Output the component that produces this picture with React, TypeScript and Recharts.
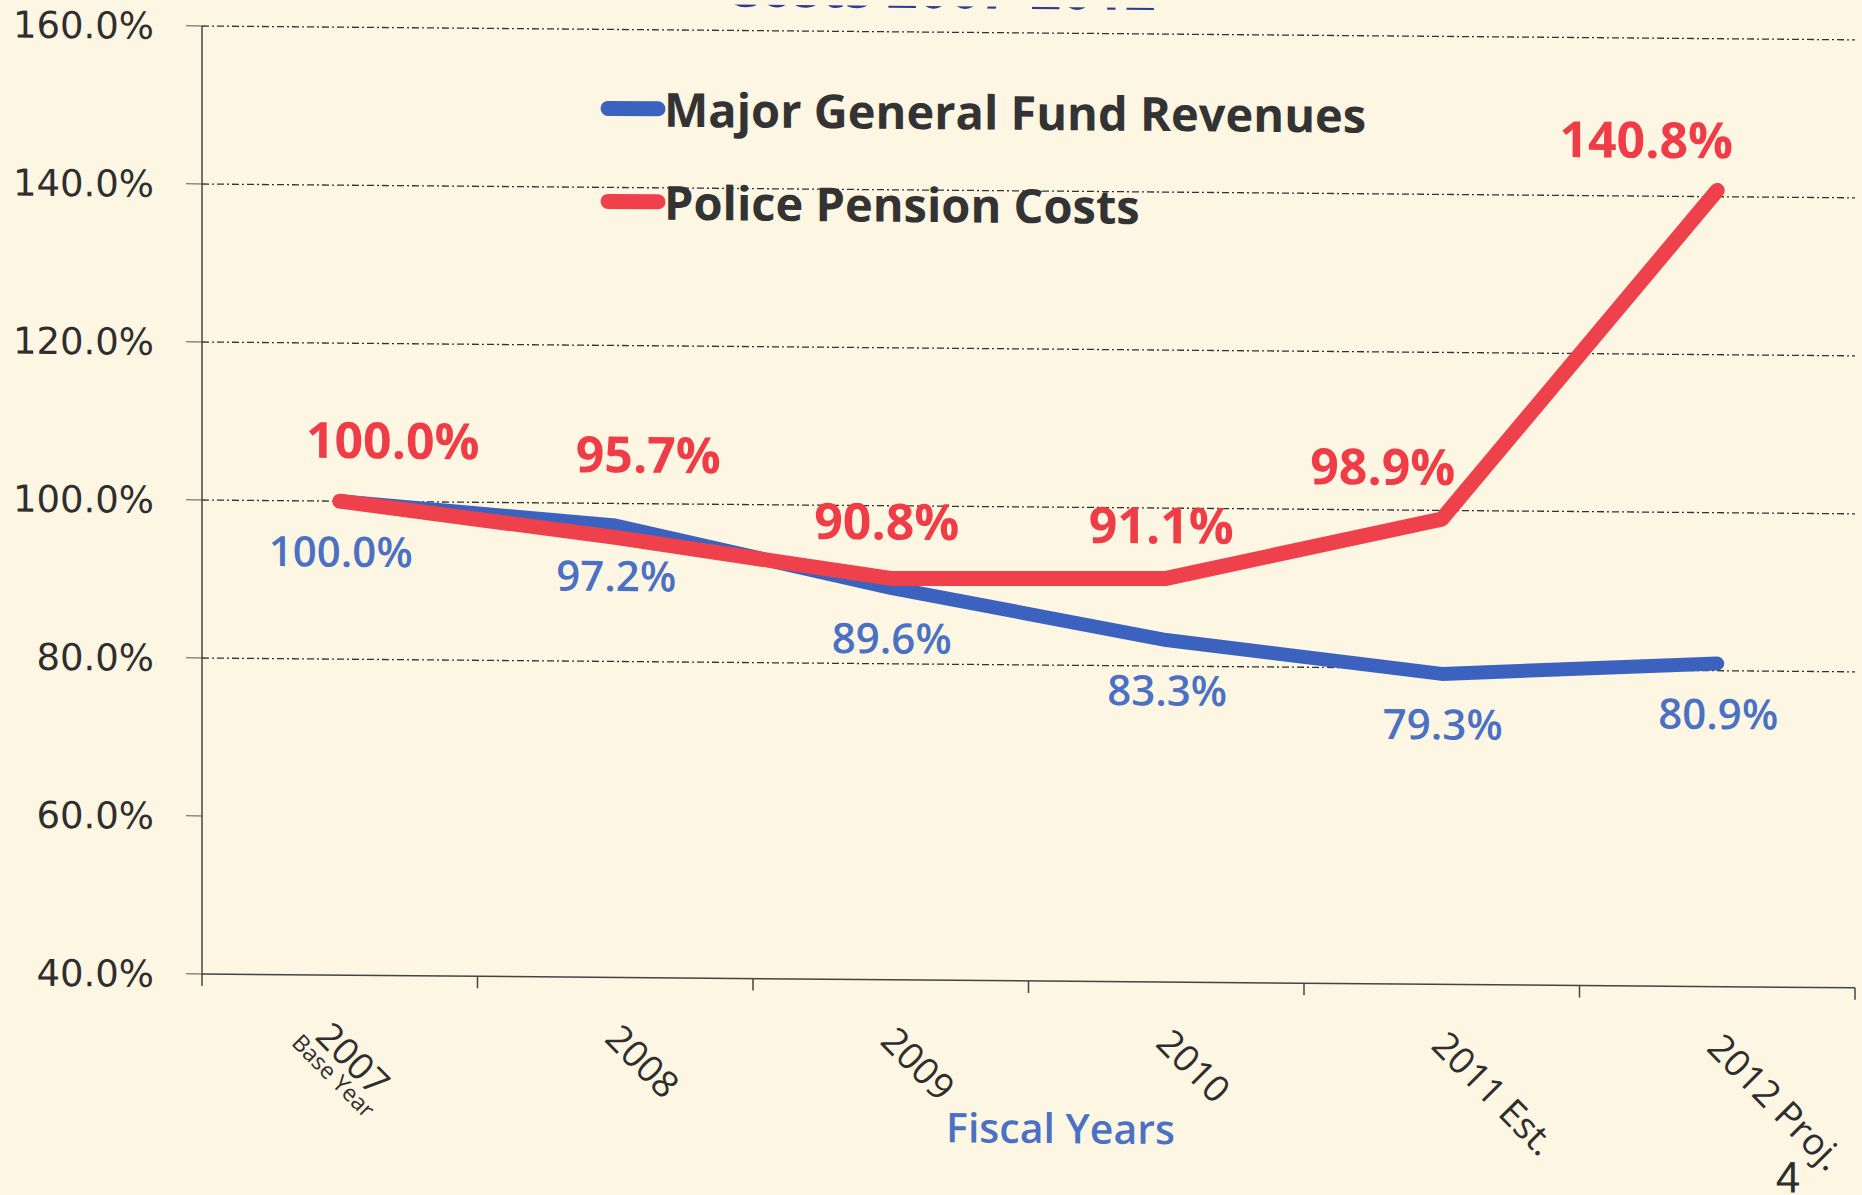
import React from "react";
import { LabelList, Legend, Line, LineChart, ReferenceLine, XAxis, YAxis } from "recharts";

// chart values
const YEARS = ["2007", "2008", "2009", "2010", "2011 Est.", "2012 Proj."];
const SUB_LABELS = ["Base Year", "", "", "", "", ""];
const REVENUES = [100.0, 97.2, 89.6, 83.3, 79.3, 80.9];
const PENSION = [100.0, 95.7, 90.8, 91.1, 98.9, 140.8];
const Y_TICKS = [40, 60, 80, 100, 120, 140, 160];
const GRID_VALUES = [80, 100, 120, 140, 160];
const X_BOUNDS = [0, 1, 2, 3, 4, 5, 6];
const X_CENTERS = [0.5, 1.5, 2.5, 3.5, 4.5, 5.5];

// hand-placed red data labels (dx, dy from the point), as in the original
const RED_LABEL_OFFSETS = [
  [53, -62],
  [33, -84],
  [-4, -58],
  [-5, -54],
  [-59, -53],
  [-71, -51],
];

const BLUE = "#3c62bf";
const BLUE_TEXT = "#4a71c3";
const RED = "#ee414b";
const RED_TEXT = "#ef3c47";
const INK = "#2e2e2e";
const PAPER = "#fdf6e3";

const W = 1862;
const H = 1195;

const rows = YEARS.map((year, i) => ({
  x: X_CENTERS[i],
  year,
  rev: REVENUES[i],
  pen: PENSION[i],
}));

const pct = (v: number) => `${v.toFixed(1)}%`;

function pos(p: any) {
  const vb = p.viewBox || {};
  return { x: vb.x ?? p.x, y: vb.y ?? p.y };
}

function RedLabel(p: any) {
  const { x, y } = pos(p);
  const [dx, dy] = RED_LABEL_OFFSETS[p.index] ?? [0, -55];
  return (
    <text
      x={x + dx}
      y={y + dy}
      textAnchor="middle"
      dominantBaseline="central"
      fill={RED_TEXT}
      fontSize={50}
      fontWeight={700}
      fontFamily="Open Sans"
    >
      {pct(Number(p.value))}
    </text>
  );
}

function BlueLabel(p: any) {
  const { x, y } = pos(p);
  return (
    <text
      x={x + 1}
      y={y + 49}
      textAnchor="middle"
      dominantBaseline="central"
      fill={BLUE_TEXT}
      fontSize={42}
      fontWeight={600}
      fontFamily="Open Sans"
    >
      {pct(Number(p.value))}
    </text>
  );
}

function YearTick(props: any) {
  const { x, y, index } = props;
  const sub = SUB_LABELS[index];
  const shift = sub ? -14 : 0;
  return (
    <g transform={`translate(${x - 12 + shift},${y + 51}) rotate(45)`}>
      <text x={0} y={0} fontSize={37} fill={INK} fontFamily="Open Sans">
        {YEARS[index]}
      </text>
      {sub && (
        <text x={-12} y={21} fontSize={23} fill={INK} fontFamily="Open Sans">
          {sub}
        </text>
      )}
    </g>
  );
}

function LegendBox({ payload }: any) {
  return (
    <svg width={820} height={180}>
      {(payload || []).map((p: any, i: number) => (
        <g key={String(p.value)} transform={`translate(0, ${35 + i * 93})`}>
          <line x1={8} x2={58} y1={0} y2={0} stroke={p.color} strokeWidth={15} strokeLinecap="round" />
          <text
            x={64}
            y={0}
            dominantBaseline="central"
            fontSize={47}
            fontWeight={700}
            fill="#333"
            fontFamily="Open Sans"
          >
            {p.value}
          </text>
        </g>
      ))}
    </svg>
  );
}

export default function App() {
  return (
    <div
      style={{
        position: "absolute",
        left: 0,
        top: 0,
        width: W,
        height: H,
        overflow: "hidden",
        background: PAPER,
      }}
    >
      {/* the scan is slightly sheared: horizontals drop ~0.5deg to the right */}
      <div
        style={{
          position: "absolute",
          left: 0,
          top: 0,
          width: W,
          height: H,
          transform: "skewY(0.48deg)",
          transformOrigin: "202px 26px",
        }}
      >
        {/* title of the slide, cut off by the top edge of the scan */}
        <svg width={W} height={60} style={{ position: "absolute", left: 0, top: 0 }}>
          <text
            x={940}
            y={2}
            textAnchor="middle"
            fontSize={55}
            fontWeight={700}
            fill="#2b3d8c"
            fontFamily="Open Sans"
          >
            Costs 2007-2012
          </text>
        </svg>
        <LineChart
          width={W}
          height={H}
          data={rows}
          margin={{ top: 26, right: 7, bottom: 208, left: 0 }}
        >
          {GRID_VALUES.map((v) => (
            <ReferenceLine
              key={v}
              y={v}
              stroke="#333"
              strokeWidth={1.3}
              strokeDasharray="7 3 2 3"
            />
          ))}
          <XAxis
            dataKey="x"
            type="number"
            domain={[0, 6]}
            ticks={X_BOUNDS}
            tickFormatter={() => ""}
            tickSize={12}
            height={12}
            axisLine={{ stroke: "#444", strokeWidth: 1.5 }}
            tickLine={{ stroke: "#444", strokeWidth: 1.5 }}
          />
          <XAxis
            xAxisId="labels"
            dataKey="x"
            type="number"
            domain={[0, 6]}
            ticks={X_CENTERS}
            tick={<YearTick />}
            tickSize={0}
            tickMargin={0}
            height={1}
            axisLine={false}
            tickLine={false}
            label={{
              content: (p: any) => {
                const vb = p.viewBox || { x: 0, y: 0, width: 0, height: 0 };
                return (
                  <text
                    x={vb.x + vb.width / 2 + 32}
                    y={vb.y + 150}
                    textAnchor="middle"
                    fill={BLUE_TEXT}
                    fontSize={41}
                    fontWeight={600}
                    fontFamily="Open Sans"
                  >
                    Fiscal Years
                  </text>
                );
              },
            }}
          />
          <YAxis
            domain={[40, 160]}
            ticks={Y_TICKS}
            width={202}
            tickFormatter={pct}
            tickSize={16}
            tickMargin={32}
            axisLine={{ stroke: "#444", strokeWidth: 1.5 }}
            tickLine={{ stroke: "#555", strokeWidth: 1 }}
            tick={{ fill: INK, fontSize: 37, fontFamily: "DejaVu Sans" }}
          />
          <Legend
            layout="vertical"
            align="center"
            verticalAlign="middle"
            content={<LegendBox />}
            wrapperStyle={{ left: 600, top: 70, width: 820, height: 180 }}
          />
          <Line
            type="linear"
            dataKey="rev"
            name="Major General Fund Revenues"
            stroke={BLUE}
            strokeWidth={14}
            strokeLinecap="round"
            strokeLinejoin="round"
            dot={false}
            isAnimationActive={false}
          >
            <LabelList dataKey="rev" content={<BlueLabel />} />
          </Line>
          <Line
            type="linear"
            dataKey="pen"
            name="Police Pension Costs"
            stroke={RED}
            strokeWidth={15}
            strokeLinecap="round"
            strokeLinejoin="round"
            dot={false}
            isAnimationActive={false}
          >
            <LabelList dataKey="pen" content={<RedLabel />} />
          </Line>
        </LineChart>
        {/* page number of the slide */}
        <svg width={120} height={80} style={{ position: "absolute", left: 1740, top: 1105 }}>
          <text x={48} y={74} textAnchor="middle" fontSize={44} fill={INK} fontFamily="Liberation Sans">
            4
          </text>
        </svg>
      </div>
    </div>
  );
}
